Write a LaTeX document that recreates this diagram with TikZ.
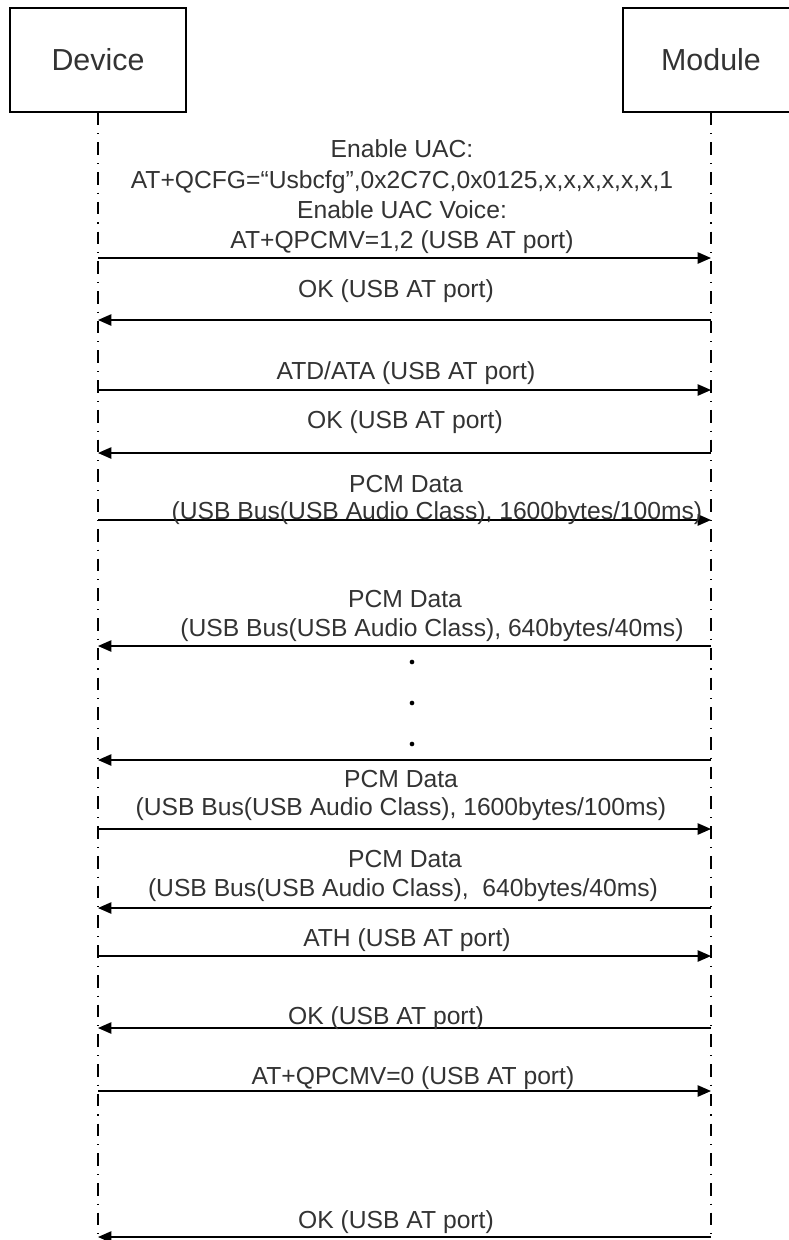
\documentclass[tikz,border=0pt]{standalone}
\usepackage{fontspec}
\setmainfont{Liberation Sans}
\usetikzlibrary{arrows.meta}
\definecolor{txt}{HTML}{333333}
\begin{document}
\begin{tikzpicture}[x=0.75pt,y=-0.75pt,
  actor/.style={draw,line width=0.9pt,minimum width=132pt,minimum height=78pt,inner sep=0pt,
    font=\fontsize{22.8}{27}\selectfont,text=txt},
  life/.style={line width=1.1pt,dash pattern=on 9.5pt off 6pt on 0.8pt off 6pt},
  msg/.style={line width=1.1pt,-{Triangle[length=10pt,width=8.5pt]}},
  lbl/.style={font=\fontsize{18.5}{22.7}\selectfont,text=txt,inner sep=0pt,align=center},
  dotmark/.style={circle,fill=black,inner sep=0pt,minimum size=3.5pt},
]
\useasboundingbox (0,0) rectangle (789,1240);
\clip (0,0) rectangle (789,1240);

% actors
\node[actor] (dev) at (98,60) {Device};
\node[actor] (mod) at (711,60) {Module};
\coordinate (devend) at (98,1240);
\coordinate (modend) at (711,1240);
\draw[life] (dev.south) -- (devend);
\draw[life] (mod.south) -- (modend);

% message end points
\foreach \i/\y in {1/258,2/320,3/390,4/453,5/520,6/646,7/760,8/829,9/908,10/956,11/1028,12/1091,13/1237}{
  \coordinate (d\i) at (98,\y);
  \coordinate (m\i) at (711,\y);
}

% messages
\draw[msg] (d1) -- (m1);
\draw[msg] (m2) -- (d2);
\draw[msg] (d3) -- (m3);
\draw[msg] (m4) -- (d4);
\draw[msg] (d5) -- (m5);
\draw[msg] (m6) -- (d6);
\draw[msg] (m7) -- (d7);
\draw[msg] (d8) -- (m8);
\draw[msg] (m9) -- (d9);
\draw[msg] (d10) -- (m10);
\draw[msg] (m11) -- (d11);
\draw[msg] (d12) -- (m12);
\draw[msg] (m13) -- (d13);

% labels
\node[lbl] (l1) at (402,197) {Enable UAC:\\AT+QCFG=“Usbcfg”,0x2C7C,0x0125,x,x,x,x,x,x,1\\Enable UAC Voice:\\AT+QPCMV=1,2 (USB AT port)};
\node[lbl] (l2) at (396,291) {OK (USB AT port)};
\node[lbl] (l3) at (406,373) {ATD/ATA (USB AT port)};
\node[lbl] (l4) at (405,422) {OK (USB AT port)};
\node[lbl] (l5a) at (406,484) {PCM Data};
\node[lbl] (l5b) at (437,513) {(USB Bus(USB Audio Class), 1600bytes/100ms)};
\node[lbl] (l6a) at (405,599) {PCM Data};
\node[lbl] (l6b) at (432,630) {(USB Bus(USB Audio Class), 640bytes/40ms)};
\node[dotmark] (p1) at (412,662) {};
\node[dotmark] (p2) at (412,703) {};
\node[dotmark] (p3) at (412,744) {};
\node[lbl] (l8a) at (401,779) {PCM Data};
\node[lbl] (l8b) at (401,809) {(USB Bus(USB Audio Class), 1600bytes/100ms)};
\node[lbl] (l9a) at (405,859) {PCM Data};
\node[lbl] (l9b) at (403,890) {(USB Bus(USB Audio Class), \ 640bytes/40ms)};
\node[lbl] (l10) at (407,940) {ATH (USB AT port)};
\node[lbl] (l11) at (386,1018) {OK (USB AT port)};
\node[lbl] (l12) at (413,1078) {AT+QPCMV=0 (USB AT port)};
\node[lbl] (l13) at (396,1222) {OK (USB AT port)};
\end{tikzpicture}
\end{document}
